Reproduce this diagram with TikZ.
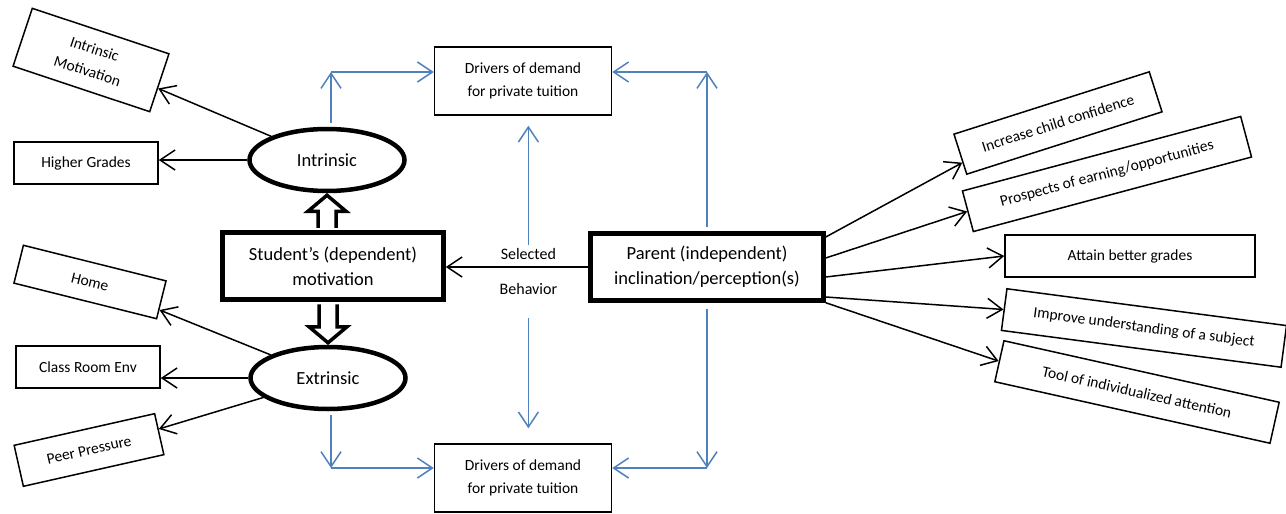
\documentclass[tikz,border=0pt]{standalone}
\usepackage{fontspec}
\setmainfont{Carlito}
\usepackage{tikz}
\usetikzlibrary{shapes.geometric, arrows.meta, positioning, calc}
\definecolor{myblue}{RGB}{79,129,189}
\definecolor{mydark}{RGB}{0,0,0}
\tikzset{
  smallbox/.style={rectangle, draw=mydark, line width=1.5pt,
    minimum height=42pt, inner sep=0pt, align=center,
    font=\fontsize{15.5}{23}\selectfont},
  mainbox/.style={rectangle, draw=mydark, line width=4.5pt,
    minimum height=67pt, inner sep=0pt, align=center,
    font=\fontsize{18.5}{25}\selectfont},
  motive/.style={ellipse, draw=mydark, line width=4.5pt,
    minimum width=155pt, minimum height=62pt, inner sep=0pt,
    font=\fontsize{18.5}{22}\selectfont},
  arrow/.style={-{Straight Barb[length=15pt,width=20pt]}, line width=1.5pt, color=mydark},
  bluearrow/.style={-{Straight Barb[length=15pt,width=20pt]}, line width=1.5pt, color=myblue},
  hollow/.style={draw=mydark, fill=white, line width=3.5pt},
  lbl/.style={font=\fontsize{16}{19}\selectfont}
}
\begin{document}
\begin{tikzpicture}[x=1pt, y=-1pt]
  \fill[white] (0,0) rectangle (1286,514);
  \useasboundingbox (0,0) rectangle (1286,514);

  % Student motivation and its two kinds
  \node[mainbox, minimum width=221pt] (stud) at (333,266) {Student's (dependent)\\motivation};
  \node[motive] (intr) at (327,160) {Intrinsic};
  \node[motive] (extr) at (328,378) {Extrinsic};

  % Left hand boxes
  \node[smallbox, minimum width=144pt, minimum height=61pt, rotate=-18.4] (imot) at (91,60) {Intrinsic\\Motivation};
  \node[smallbox, minimum width=144pt] (hgr) at (86,163) {Higher Grades};
  \node[smallbox, minimum width=147pt, minimum height=39pt, rotate=-14] (home) at (90,282) {Home};
  \node[smallbox, minimum width=144pt] (cre) at (88,367) {Class Room Env};
  \node[smallbox, minimum width=144pt, rotate=12.7] (peer) at (89,450) {Peer Pressure};

  \draw[arrow] (intr) -- (imot);
  \draw[arrow] (intr) -- (intr -| hgr.east);
  \draw[arrow] (extr) -- (home);
  \draw[arrow] (extr) -- (extr -| cre.east);
  \draw[arrow] (extr) -- (peer);

  % Hollow block arrows
  \coordinate (up0) at (intr.south |- stud.north);
  \coordinate (dn0) at (extr.north |- stud.south);
  \draw[hollow] ($(up0)+(-9,-2.5)$) -- ($(intr.south)+(-9,18)$) -- ($(intr.south)+(-19,18)$)
    -- ($(intr.south)+(0,2)$) -- ($(intr.south)+(19,18)$) -- ($(intr.south)+(9,18)$) -- ($(up0)+(9,-2.5)$);
  \draw[hollow] ($(dn0)+(-9,2.5)$) -- ($(extr.north)+(-9,-18)$) -- ($(extr.north)+(-19,-18)$)
    -- ($(extr.north)+(0,-2)$) -- ($(extr.north)+(19,-18)$) -- ($(extr.north)+(9,-18)$) -- ($(dn0)+(9,2.5)$);

  % Drivers of demand
  \node[smallbox, minimum width=177pt, minimum height=68pt] (drvt) at (523,81) {Drivers of demand\\for private tuition};
  \node[smallbox, minimum width=177pt, minimum height=68pt] (drvb) at (523,478) {Drivers of demand\\for private tuition};

  % Parent
  \node[mainbox, minimum width=233pt] (par) at (707,267) {Parent (independent)\\inclination/perception(s)};

  \draw[arrow] (par) -- (par -| stud.east)
    node[lbl, pos=.42, above=3pt] (sel) {Selected}
    node[lbl, pos=.42, below=12pt] (beh) {Behavior};

  % Blue links to the drivers
  \coordinate (tl) at (331,72);
  \coordinate (tr) at (707,72);
  \coordinate (bl) at (331,468);
  \coordinate (br) at (707,468);
  \draw[bluearrow] ($(tl |- intr.north)+(0,-4)$) -- (tl);
  \draw[bluearrow] (tl) -- (tl -| drvt.west);
  \draw[bluearrow] ($(par.north)+(0,-4)$) -- (tr);
  \draw[bluearrow] (tr) -- (tr -| drvt.east);
  \draw[bluearrow] ($(bl |- extr.south)+(0,4)$) -- (bl);
  \draw[bluearrow] (bl) -- (bl -| drvb.west);
  \draw[bluearrow] ($(par.south)+(0,6)$) -- (br);
  \draw[bluearrow] (br) -- (br -| drvb.east);
  \draw[bluearrow] (sel.north) -- ($(sel.north |- drvt.south)+(0,10)$);
  \draw[bluearrow] ($(beh.south)+(0,20)$) -- ($(beh.south |- drvb.north)+(0,-15)$);

  % Right hand boxes
  \node[smallbox, minimum width=205pt, rotate=17.7] (conf) at (1058,123) {Increase child confidence};
  \node[smallbox, minimum width=288pt, rotate=15] (earn) at (1107,174) {Prospects of earning/opportunities};
  \node[smallbox, minimum width=250pt] (grade) at (1130,256) {Attain better grades};
  \node[smallbox, minimum width=282pt, rotate=-7.5] (subj) at (1144,328) {Improve understanding of a subject};
  \node[smallbox, minimum width=282pt, rotate=-12.6] (attn) at (1137,392) {Tool of individualized attention};

  \draw[arrow] ([yshift=30pt]par.east) -- ($(conf.west)!.4!(conf.south west)$);
  \draw[arrow] ([yshift=9pt]par.east) -- (earn.west);
  \draw[arrow] ([yshift=-10pt]par.east) -- (grade.west);
  \draw[arrow] ([yshift=-30pt]par.east) -- (subj.west);
  \draw[arrow] (par.south east) -- (attn.west);
\end{tikzpicture}
\end{document}
